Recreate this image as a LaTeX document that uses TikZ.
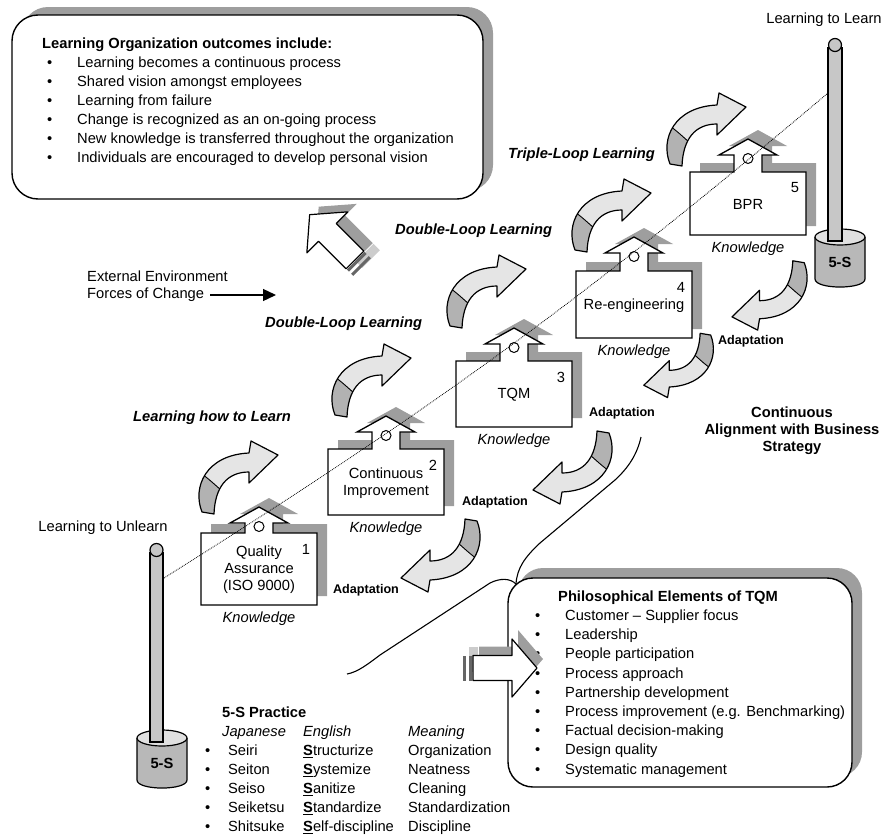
\documentclass[tikz,border=0pt]{standalone}
\usepackage{fontspec}
\setmainfont{Liberation Sans}
\usetikzlibrary{arrows.meta}

\begin{document}
\begin{tikzpicture}[x=1pt,y=-1pt,
  every node/.style={font=\fontsize{14.7}{17}\selectfont,inner sep=0pt},
  shadowfill/.style={fill=black!38},
  boxtext/.style={align=center},
  knowtext/.style={font=\fontsize{14.7}{17}\selectfont\itshape},
  looptext/.style={font=\fontsize{14.7}{17}\selectfont\bfseries\itshape,anchor=west},
  adapttext/.style={font=\fontsize{12.6}{15}\selectfont\bfseries},
  listtext/.style={anchor=north west,font=\fontsize{14.7}{19}\selectfont},
  pole/.style={fill=black!22,line width=1.2pt},
  curvy/.pic={
    \begin{scope}
      \clip (-36,34) .. controls (-46,9) and (-32,-23) .. (11,-25) -- (13,-37) -- (40,-23)
        -- (11,5) -- (11,-6) .. controls (-11,-6) and (-23,9) .. (-24,36) -- cycle;
      \fill[black!10] (-60,-60) rectangle (60,60);
      \fill[black!30] (-60,60) -- (-60,-8) -- (-39,-6) .. controls (-30,0) and (-24,6) .. (-17,12)
        -- (0,60) -- cycle;
      \draw[line width=0.9pt] (-39,-6) .. controls (-30,0) and (-24,6) .. (-17,12);
    \end{scope}
    \draw[line width=1.2pt,line join=round] (-36,34) .. controls (-46,9) and (-32,-23) .. (11,-25)
      -- (13,-37) -- (40,-23) -- (11,5) -- (11,-6) .. controls (-11,-6) and (-23,9) .. (-24,36) -- cycle;
  },
  hollow/.pic={
    \fill[black!60] (0,-12.5) rectangle (3,12.5);
    \fill[black!60] (6,-12.5) rectangle (9,12.5);
    \filldraw[fill=white,line width=1.2pt,line join=round] (10,-12.5) -- (49,-12.5) -- (49,-29) -- (74,0)
      -- (49,29) -- (49,12.5) -- (10,12.5) -- cycle;
  },
  hollowshadow/.pic={
    \fill[black!38] (10,-12.5) -- (49,-12.5) -- (49,-29) -- (74,0) -- (49,29) -- (49,12.5) -- (10,12.5) -- cycle;
    \fill[black!20] (0,-12.5) rectangle (9,12.5);
  }]
\useasboundingbox (0,0) rectangle (883,835);

% outcome box
\fill[shadowfill,rounded corners=26pt] (22,7) rectangle (493,191);
\filldraw[fill=white,line width=1.4pt,rounded corners=26pt] (12,15) rectangle (483,199);
\node[listtext] (outcomes) at (42,34.7) {%
  \begin{tabular}{@{}p{35pt}@{}l@{}}
  \multicolumn{2}{@{}l@{}}{\textbf{Learning Organization outcomes include:}}\\
  \hspace*{5pt}\textbullet & Learning becomes a continuous process\\
  \hspace*{5pt}\textbullet & Shared vision amongst employees\\
  \hspace*{5pt}\textbullet & Learning from failure\\
  \hspace*{5pt}\textbullet & Change is recognized as an on-going process\\
  \hspace*{5pt}\textbullet & New knowledge is transferred throughout the organization\\
  \hspace*{5pt}\textbullet & Individuals are encouraged to develop personal vision
  \end{tabular}};

% TQM box
\fill[shadowfill,rounded corners=25pt] (518,568) rectangle (862,777);
\filldraw[fill=white,line width=1.4pt,rounded corners=25pt] (508,578) rectangle (852,787);
\node[listtext,font=\fontsize{14.7}{19.2}\selectfont] (tqmlist) at (535,587.6) {%
  \begin{tabular}{@{}p{30pt}@{}l@{}}
  \multicolumn{2}{@{\hspace{23pt}}l@{}}{\textbf{Philosophical Elements of TQM}}\\
  \textbullet & Customer -- Supplier focus\\
  \textbullet & Leadership\\
  \textbullet & People participation\\
  \textbullet & Process approach\\
  \textbullet & Partnership development\\
  \textbullet & Process improvement (e.g. Benchmarking)\\
  \textbullet & Factual decision-making\\
  \textbullet & Design quality\\
  \textbullet & Systematic management
  \end{tabular}};

% houses
\foreach \bx/\by/\bh/\st/\num/\txt in {201/533/72/10/1/{Quality\\Assurance\\(ISO 9000)},
    328/449/66/17/2/{Continuous\\Improvement}, 456/361/66/17/3/TQM,
    576/271/67/18/4/Re-engineering, 690/172/63/17/5/BPR}{
  \begin{scope}[shift={(\bx,\by)}]
    \fill[shadowfill,shift={(10,-9)}] (0,0) -- (44,0) -- (44,-\st) -- (29,-\st) -- (58,-\st-16)
      -- (87,-\st) -- (72,-\st) -- (72,0) -- (116,0) -- (116,\bh) -- (0,\bh) -- cycle;
    \filldraw[fill=white,line width=1.3pt] (0,0) -- (44,0) -- (44,-\st) -- (29,-\st) -- (58,-\st-16)
      -- (87,-\st) -- (72,-\st) -- (72,0) -- (116,0) -- (116,\bh) -- (0,\bh) -- cycle;
    \draw[line width=1pt] (58,-\st+3.5) circle (5);
    \node[boxtext] (house\num) at (58,\bh/2+1) {\txt};
    \node (num\num) at (105,16) {\num};
    \node[knowtext] (know\num) at (58,\bh+14) {Knowledge};
  \end{scope}
}

% learning and adaptation loops
\foreach \ax/\ay/\ang/\sc in {238/478/0/1, 371/381/0/1, 486/292/0/1, 611/216/0/1, 706/130/0/1,
    441/555/180/1, 573/467/180/1, 679/365/180/0.88, 770/295/180/0.95}
  \pic[rotate=\ang,scale=\sc] at (\ax,\ay) {curvy};

% hollow arrows
\pic[rotate=135] at (371,259) {hollowshadow};
\pic[rotate=135] at (362,267) {hollow};
\pic at (469,659) {hollowshadow};
\pic at (463,668) {hollow};

% brace to the TQM box
\coordinate (bracetip) at (516,584);
\coordinate (braceup) at (641,437);
\coordinate (bracedown) at (347,674);
\draw[line width=1.1pt] (bracetip) .. controls (517,568) and (525,557) .. (540,543) -- (615,480)
  .. controls (628,468) and (637,455) .. (braceup);
\draw[line width=1.1pt] (bracetip) .. controls (510,578) and (500,578) .. (490,583) -- (380,655)
  .. controls (368,664) and (358,672) .. (bracedown);

% poles
\coordinate (unlearnpt) at (164,578);
\coordinate (learnpt) at (828,93);
\draw[densely dotted,line width=0.8pt] (unlearnpt) to[bend right=4] (learnpt);
\filldraw[fill=black!28,line width=1.2pt] (137,738) -- (137,780) .. controls (137,790.7) and (187,790.7) .. (187,780) -- (187,738);
\filldraw[fill=black!12,line width=1.2pt] (162,738) ellipse (25 and 8);
\filldraw[pole] (150,553) rectangle (163,742);
\filldraw[pole] (156.5,550) circle (6.5);
\node[font=\fontsize{14.7}{17}\selectfont\bfseries] (leftcyl) at (162,763) {5-S};
\filldraw[fill=black!28,line width=1.2pt] (815,237) -- (815,279) .. controls (815,289.7) and (865,289.7) .. (865,279) -- (865,237);
\filldraw[fill=black!12,line width=1.2pt] (840,237) ellipse (25 and 8);
\filldraw[pole] (828,48) rectangle (842,241);
\filldraw[pole] (835,45) circle (6.5);
\node[font=\fontsize{14.7}{17}\selectfont\bfseries] (rightcyl) at (840,262) {5-S};

% labels
\node (learnlabel) at (824,20) {Learning to Learn};
\node (unlearnlabel) at (103,528) {Learning to Unlearn};
\node[looptext] (triple) at (508,155) {Triple-Loop Learning};
\node[looptext] (doubleup) at (395,231) {Double-Loop Learning};
\node[looptext] (doublelow) at (265,324) {Double-Loop Learning};
\node[looptext] (howto) at (133,418) {Learning how to Learn};
\node[adapttext] (adapt1) at (366,590) {Adaptation};
\node[adapttext] (adapt2) at (495,502) {Adaptation};
\node[adapttext] (adapt3) at (622,413) {Adaptation};
\node[adapttext] (adapt4) at (751,341) {Adaptation};
\node[align=center,font=\fontsize{14.7}{17}\selectfont\bfseries] (alignment) at (792,431)
  {Continuous\\Alignment with Business\\Strategy};
\node[align=left,anchor=west] (forces) at (87,286.5) {External Environment\\Forces of Change};
\coordinate (forcestail) at (210,295);
\coordinate (forcestip) at (276,295);
\draw[line width=1.3pt,-{Triangle[length=13pt,width=12pt]}] (forcestail) -- (forcestip);

% 5-S practice
\node[listtext] (fivestable) at (205,703.7) {%
  \begin{tabular}{@{}p{17pt}@{}p{81pt}@{}p{105pt}@{}l@{}}
  & \multicolumn{3}{@{}l@{}}{\textbf{5-S Practice}}\\
  & \textit{Japanese} & \textit{English} & \textit{Meaning}\\
  \textbullet & \hspace*{6pt}Seiri & \underline{\textbf{S}}tructurize & Organization\\
  \textbullet & \hspace*{6pt}Seiton & \underline{\textbf{S}}ystemize & Neatness\\
  \textbullet & \hspace*{6pt}Seiso & \underline{\textbf{S}}anitize & Cleaning\\
  \textbullet & \hspace*{6pt}Seiketsu & \underline{\textbf{S}}tandardize & Standardization\\
  \textbullet & \hspace*{6pt}Shitsuke & \underline{\textbf{S}}elf-discipline & Discipline
  \end{tabular}};
\end{tikzpicture}
\end{document}
